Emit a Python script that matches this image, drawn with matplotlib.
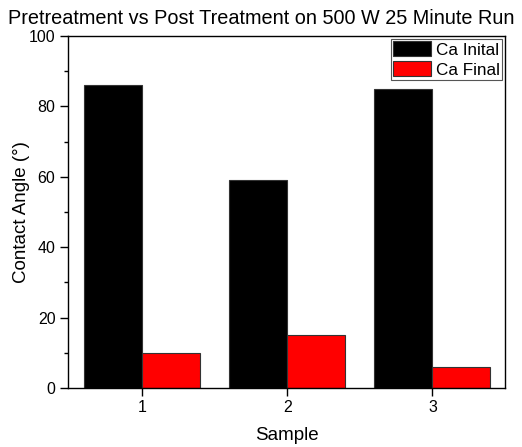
import matplotlib.pyplot as plt
import numpy as np
from matplotlib.ticker import MultipleLocator

plt.rcParams["font.family"] = ["Liberation Sans", "DejaVu Sans"]

samples = [1, 2, 3]
ca_initial = [86, 59, 85]
ca_final = [10, 15, 6]

BAR_W = 0.4

fig = plt.figure(figsize=(5.22, 4.47), dpi=100)
ax = fig.add_axes([68 / 522, 1 - 388 / 447, 437 / 522, 352 / 447])

x = np.array(samples, dtype=float)
ax.bar(x - BAR_W / 2, ca_initial, BAR_W, color="black", edgecolor="#333333",
       linewidth=0.8, label="Ca Inital")
ax.bar(x + BAR_W / 2, ca_final, BAR_W, color="#ff0000", edgecolor="#333333",
       linewidth=0.8, label="Ca Final")

ax.set_xlim(0.49, 3.5)
ax.set_ylim(0, 100)
ax.set_xticks(samples)
ax.yaxis.set_major_locator(MultipleLocator(20))
ax.yaxis.set_minor_locator(MultipleLocator(10))
ax.tick_params(axis="both", which="major", direction="out", length=6,
               width=1, labelsize=11.5, pad=3)
ax.tick_params(axis="y", which="minor", direction="out", length=3, width=1)
ax.tick_params(axis="x", which="minor", bottom=False)
for s in ax.spines.values():
    s.set_linewidth(1)

ax.set_xlabel("Sample", fontsize=13.5, labelpad=8)
ax.set_ylabel("Contact Angle (°)", fontsize=13.5, labelpad=-1)
fig.text(0.5, 1 - 18 / 447,
         "Pretreatment vs Post Treatment on 500 W 25 Minute Run",
         fontsize=14.3, ha="center", va="center")

leg = ax.legend(loc="upper right", fontsize=12.3, handlelength=2.2,
                handleheight=1.0, fancybox=False, framealpha=1,
                edgecolor="#555555", borderpad=0.15, labelspacing=0.2,
                handletextpad=0.3, borderaxespad=0.15)
leg.get_frame().set_linewidth(0.8)

fig.savefig("out.png", dpi=100)
